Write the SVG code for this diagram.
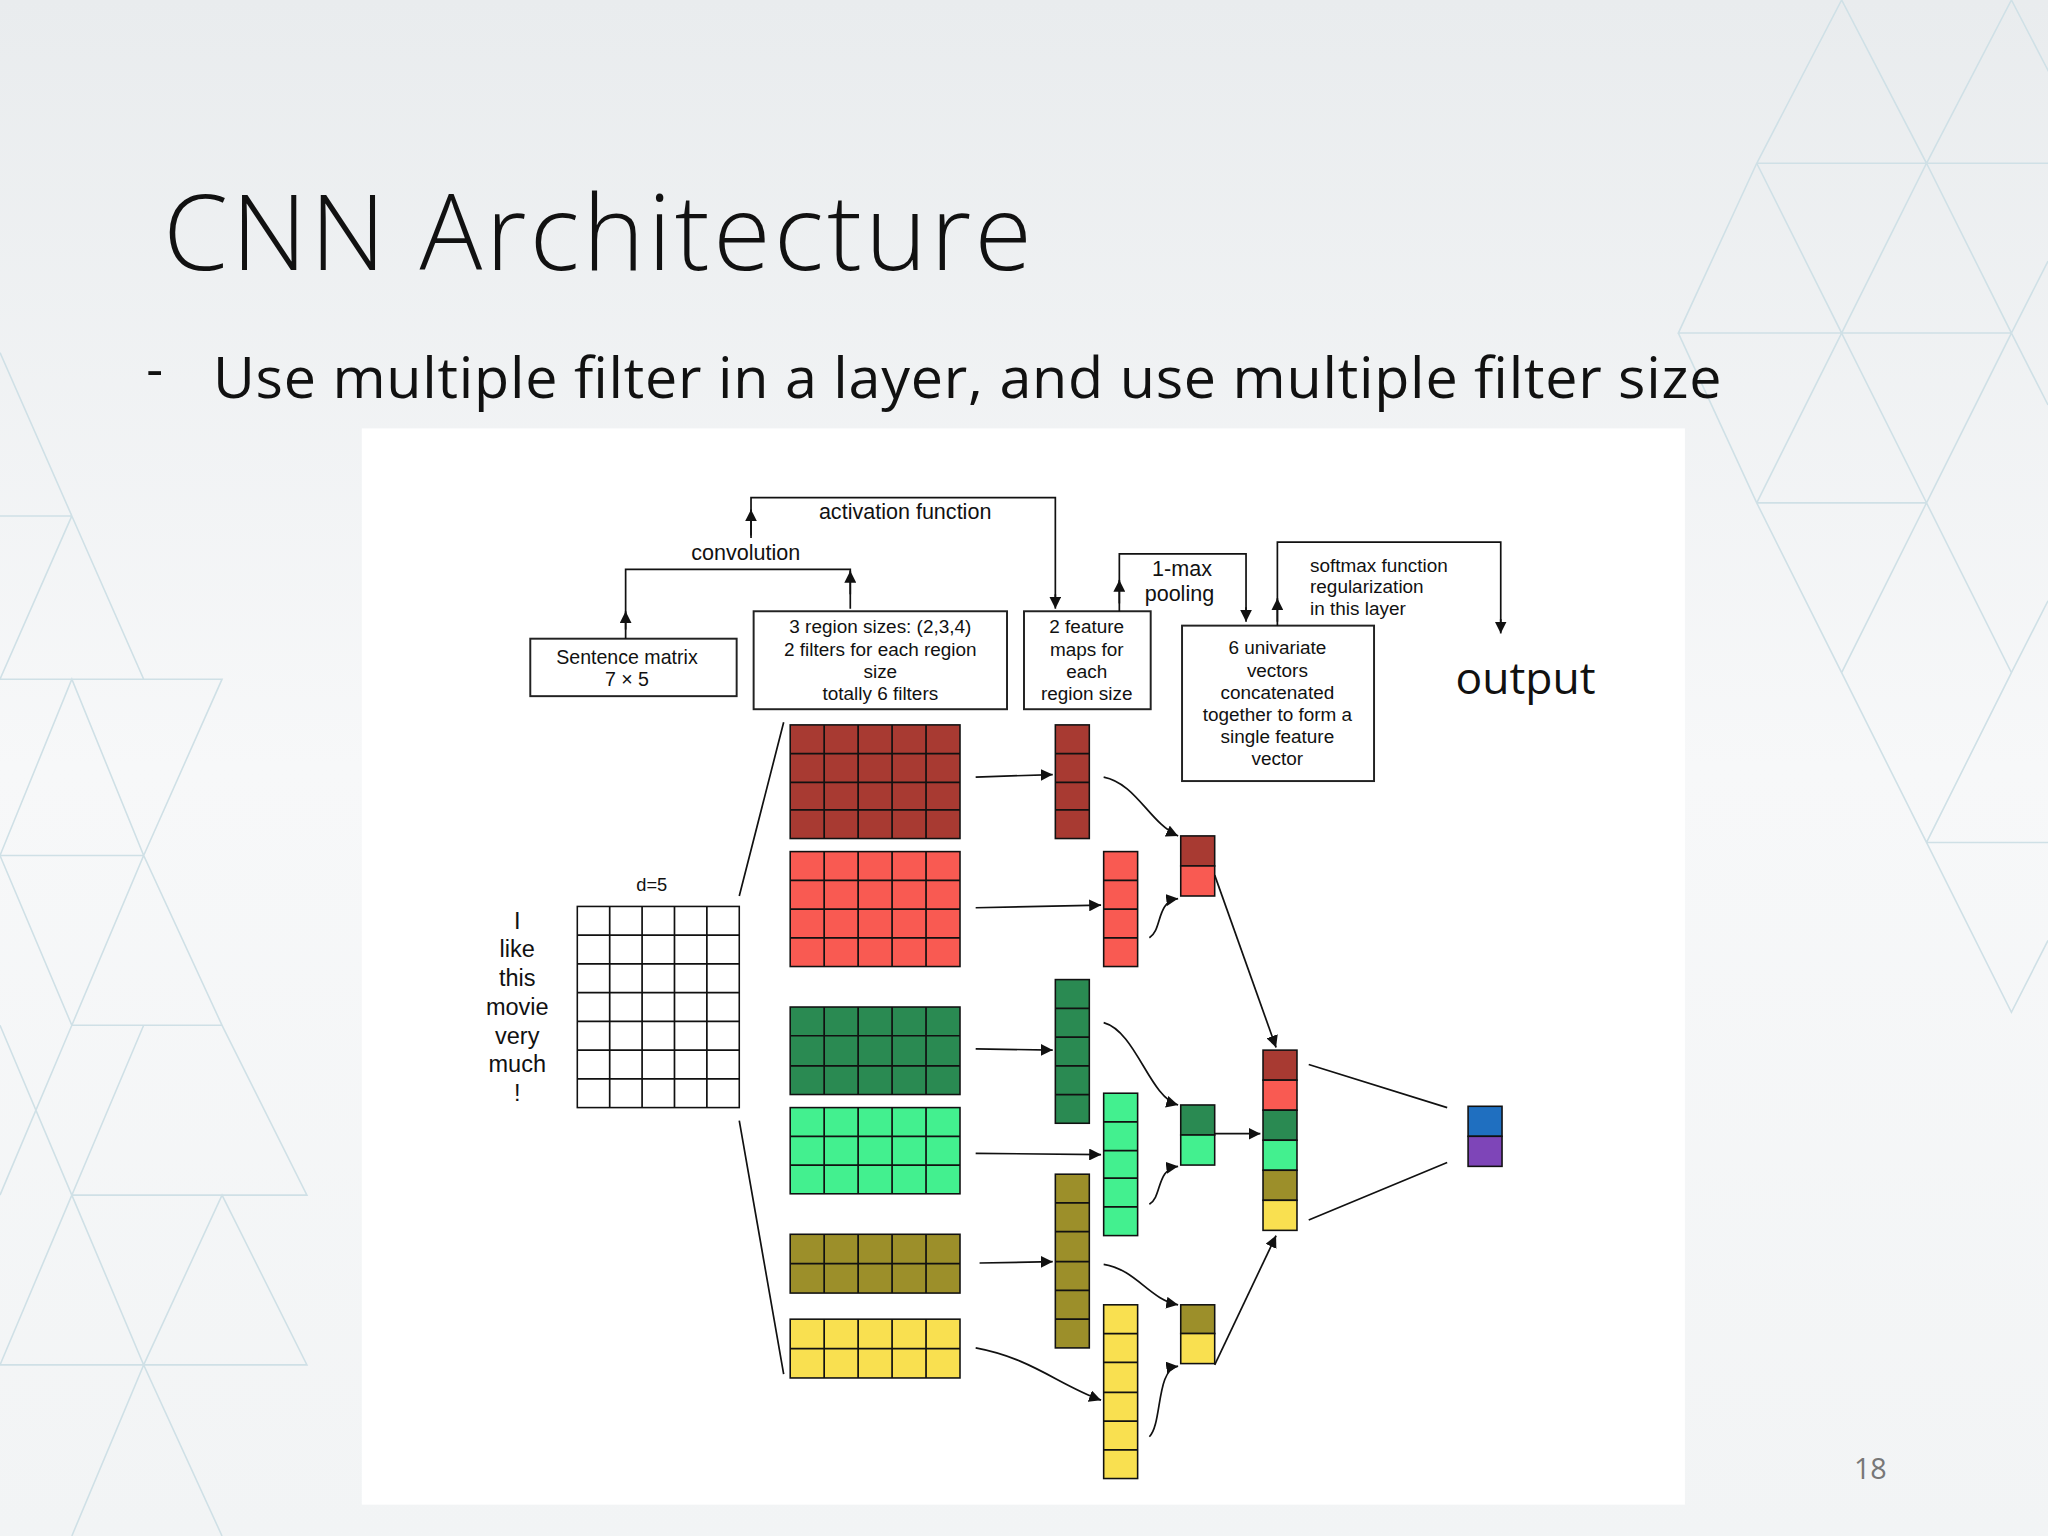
<svg xmlns="http://www.w3.org/2000/svg" width="2048" height="1536" viewBox="0 0 2048 1536">
<defs>
<linearGradient id="bg" x1="0" y1="0" x2="0" y2="1"><stop offset="0" stop-color="#e9ecee"/><stop offset="0.5" stop-color="#f7f8f9"/><stop offset="1" stop-color="#f2f4f5"/></linearGradient>
<marker id="ah" viewBox="0 0 10 10" refX="10" refY="5" markerWidth="7" markerHeight="7" orient="auto-start-reverse"><path d="M0,0 L10,5 L0,10 z" fill="#111"/></marker>
<style>
.t{font-family:"Liberation Sans",Arial,sans-serif;fill:#111;text-anchor:middle}
.box{fill:#fff;stroke:#222;stroke-width:1.5}
.ln{fill:none;stroke:#111;stroke-width:1.3}
.ar{fill:none;stroke:#111;stroke-width:1.3;marker-end:url(#ah)}
.g{stroke:#111;stroke-width:1.2}
.deco{fill:none;stroke:#cfe0e6;stroke-width:1.2}
</style>
</defs>
<rect width="2048" height="1536" fill="url(#bg)"/>
<g transform="scale(1.30612)">
<g id="decor">
<path class="deco" d="M1345,125 L1410,0 L1475,125 L1345,125 M1345,125 L1285,255 L1410,255 L1345,125 M1475,125 L1540,0 L1605,125 Z M1410,255 L1475,125 L1540,255 Z M1285,255 L1345,385 L1410,255 M1540,255 L1475,385 L1410,255 M1540,255 L1568,200 M1345,385 L1475,385 L1410,515 Z M1475,385 L1540,255 L1568,310 M1410,515 L1475,645 L1540,515 L1475,385 M1540,515 L1568,460 M1475,645 L1568,645 M1475,645 L1540,775 L1568,720"/>
<path class="deco" d="M0,270 L55,395 L0,520 M0,395 L55,395 L110,520 L0,520 M55,395 L0,270 M0,655 L55,520 L110,655 L0,655 M110,655 L170,520 L110,520 M0,655 L55,785 L110,655 L170,785 L55,785 M0,915 L55,785 M170,785 L235,915 L55,915 L110,785 M0,1045 L55,915 L110,1045 L0,1045 M110,1045 L170,915 L235,1045 Z M55,1176 L110,1045 L170,1176 M0,785 L55,915"/>
</g>
<g id="title"><text x="125" y="207" textLength="665" style="font-family:'Open Sans',sans-serif;font-weight:300;font-size:80px;fill:#111">CNN Architecture</text></g>
<g id="bullet"><text x="112" y="296" style="font-family:'Open Sans',sans-serif;font-size:40px;fill:#111">-</text>
<text x="163" y="305" textLength="1155" style="font-family:'Open Sans',sans-serif;font-size:44px;fill:#111">Use multiple filter in a layer, and use multiple filter size</text></g>
<text x="1432" y="1132" style="font-family:'Open Sans',sans-serif;font-size:22px;fill:#777;text-anchor:middle">18</text>
<rect x="277" y="328" width="1013" height="824" fill="#fff"/>

<g id="sentence-matrix-box"><rect class="box" x="406" y="489" width="158" height="44"/>
<text class="t" x="480" y="508" font-size="15">Sentence matrix</text><text class="t" x="480" y="525" font-size="15">7 × 5</text></g>
<g id="region-box"><rect class="box" x="577" y="468" width="194" height="75"/>
<text class="t" x="674" y="485" font-size="14.5">3 region sizes: (2,3,4)</text><text class="t" x="674" y="502" font-size="14.5">2 filters for each region</text><text class="t" x="674" y="519" font-size="14.5">size</text><text class="t" x="674" y="536" font-size="14.5">totally 6 filters</text></g>
<g id="feature-box"><rect class="box" x="784" y="468" width="97" height="75"/>
<text class="t" x="832" y="485" font-size="14.5">2 feature</text><text class="t" x="832" y="502" font-size="14.5">maps for</text><text class="t" x="832" y="519" font-size="14.5">each</text><text class="t" x="832" y="536" font-size="14.5">region size</text></g>
<g id="vector-box"><rect class="box" x="905" y="479" width="147" height="119"/>
<text class="t" x="978" y="501" font-size="14.5">6 univariate</text><text class="t" x="978" y="518" font-size="14.5">vectors</text><text class="t" x="978" y="535" font-size="14.5">concatenated</text><text class="t" x="978" y="552" font-size="14.5">together to form a</text><text class="t" x="978" y="569" font-size="14.5">single feature</text><text class="t" x="978" y="586" font-size="14.5">vector</text></g>
<g id="output"><text x="1168" y="531" style="font-family:'Open Sans',sans-serif;font-size:34px;fill:#111;text-anchor:middle">output</text></g>
<g id="labels">
<text class="t" x="693" y="397" font-size="16.5">activation function</text>
<text class="t" x="571" y="429" font-size="16.5">convolution</text>
<text class="t" x="905" y="441" font-size="16.5">1-max</text><text class="t" x="903" y="460" font-size="16.5">pooling</text>
<text class="t" x="1003" y="438" font-size="14.5" style="text-anchor:start">softmax function</text>
<text class="t" x="1003" y="454" font-size="14.5" style="text-anchor:start">regularization</text>
<text class="t" x="1003" y="471" font-size="14.5" style="text-anchor:start">in this layer</text>
<text class="t" x="499" y="682" font-size="14">d=5</text>
<g font-size="18"><text class="t" x="396" y="711">I</text><text class="t" x="396" y="733">like</text><text class="t" x="396" y="755">this</text><text class="t" x="396" y="777">movie</text><text class="t" x="396" y="799">very</text><text class="t" x="396" y="821">much</text><text class="t" x="396" y="843">!</text></g>
</g>

<g id="input-matrix" fill="#fff" class="g">
<rect x="442" y="694" width="124" height="154" fill="#fff"/>
<path class="ln" d="M466.8,694V848M491.6,694V848M516.4,694V848M541.2,694V848M442,716H566M442,738H566M442,760H566M442,782H566M442,804H566M442,826H566"/>
</g>

<g id="filters" class="g">
<rect x="605" y="555" width="130" height="87" fill="#a83a32"/>
<rect x="605" y="652" width="130" height="88" fill="#f95a52"/>
<rect x="605" y="771" width="130" height="67" fill="#2a8a52"/>
<rect x="605" y="848" width="130" height="66" fill="#43f08f"/>
<rect x="605" y="945" width="130" height="45" fill="#9c8f2a"/>
<rect x="605" y="1010" width="130" height="45" fill="#f9e050"/>
<path class="ln" d="M631,555V642M657,555V642M683,555V642M709,555V642M605,577H735M605,599H735M605,620H735
M631,652V740M657,652V740M683,652V740M709,652V740M605,674H735M605,696H735M605,718H735
M631,771V838M657,771V838M683,771V838M709,771V838M605,793H735M605,816H735
M631,848V914M657,848V914M683,848V914M709,848V914M605,870H735M605,892H735
M631,945V990M657,945V990M683,945V990M709,945V990M605,967.5H735
M631,1010V1055M657,1010V1055M683,1010V1055M709,1010V1055M605,1032.5H735"/>
</g>

<g id="feature-maps" class="g">
<rect x="808" y="555" width="26" height="87" fill="#a83a32"/>
<rect x="845" y="652" width="26" height="88" fill="#f95a52"/>
<rect x="808" y="750" width="26" height="110" fill="#2a8a52"/>
<rect x="845" y="837" width="26" height="109" fill="#43f08f"/>
<rect x="808" y="899" width="26" height="133" fill="#9c8f2a"/>
<rect x="845" y="999" width="26" height="133" fill="#f9e050"/>
<path class="ln" d="M808,577H834M808,599H834M808,620H834
M845,674H871M845,696H871M845,718H871
M808,772H834M808,794H834M808,816H834M808,838H834
M845,859H871M845,881H871M845,902H871M845,924H871
M808,921H834M808,943H834M808,966H834M808,988H834M808,1010H834
M845,1021H871M845,1043H871M845,1066H871M845,1088H871M845,1110H871"/>
</g>

<g id="pooled" class="g">
<rect x="904" y="640" width="26" height="23" fill="#a83a32"/><rect x="904" y="663" width="26" height="23" fill="#f95a52"/>
<rect x="904" y="846" width="26" height="23" fill="#2a8a52"/><rect x="904" y="869" width="26" height="23" fill="#43f08f"/>
<rect x="904" y="999" width="26" height="22" fill="#9c8f2a"/><rect x="904" y="1021" width="26" height="23" fill="#f9e050"/>
</g>

<g id="concat" class="g">
<rect x="967" y="804" width="26" height="23" fill="#a83a32"/>
<rect x="967" y="827" width="26" height="23" fill="#f95a52"/>
<rect x="967" y="850" width="26" height="23" fill="#2a8a52"/>
<rect x="967" y="873" width="26" height="23" fill="#43f08f"/>
<rect x="967" y="896" width="26" height="23" fill="#9c8f2a"/>
<rect x="967" y="919" width="26" height="23" fill="#f9e050"/>
</g>

<g id="final-output" class="g">
<rect x="1124" y="847" width="26" height="23" fill="#1f6fc0"/>
<rect x="1124" y="870" width="26" height="23" fill="#7e45b8"/>
</g>

<g id="connectors">
<path class="ln" d="M479,489V436H651V466"/>
<path class="ar" d="M479,482V468"/><path class="ar" d="M651,455V437"/>
<path class="ln" d="M575,412V381H808V460"/><path class="ar" d="M808,455V466"/><path class="ar" d="M575,410V390"/>
<path class="ln" d="M857,468V424H954V470"/><path class="ar" d="M954,465V476"/><path class="ar" d="M857,462V444"/>
<path class="ln" d="M978,479V415H1149V478"/><path class="ar" d="M1149,474V485"/><path class="ar" d="M978,476V458"/>
<path class="ln" d="M566,686L600,553M566,858L600,1052"/>
<path class="ar" d="M747,595L806,593"/>
<path class="ar" d="M747,695L843,693"/>
<path class="ar" d="M747,803L806,804"/>
<path class="ar" d="M747,883L843,884"/>
<path class="ar" d="M750,967L806,966"/>
<path class="ar" d="M747,1032C790,1040 810,1060 843,1072"/>
<path class="ar" d="M845,595C870,600 880,630 902,640"/>
<path class="ar" d="M880,718C890,712 885,690 902,688"/>
<path class="ar" d="M845,783C870,790 880,840 902,846"/>
<path class="ar" d="M880,922C890,916 885,895 902,893"/>
<path class="ar" d="M845,968C870,972 880,995 902,999"/>
<path class="ar" d="M880,1100C890,1090 885,1048 902,1046"/>
<path class="ar" d="M930,670L977,802"/>
<path class="ar" d="M930,868L965,868"/>
<path class="ar" d="M930,1045L977,946"/>
<path class="ln" d="M1002,815L1108,848M1002,934L1108,890"/>
</g>
</g>
</svg>
